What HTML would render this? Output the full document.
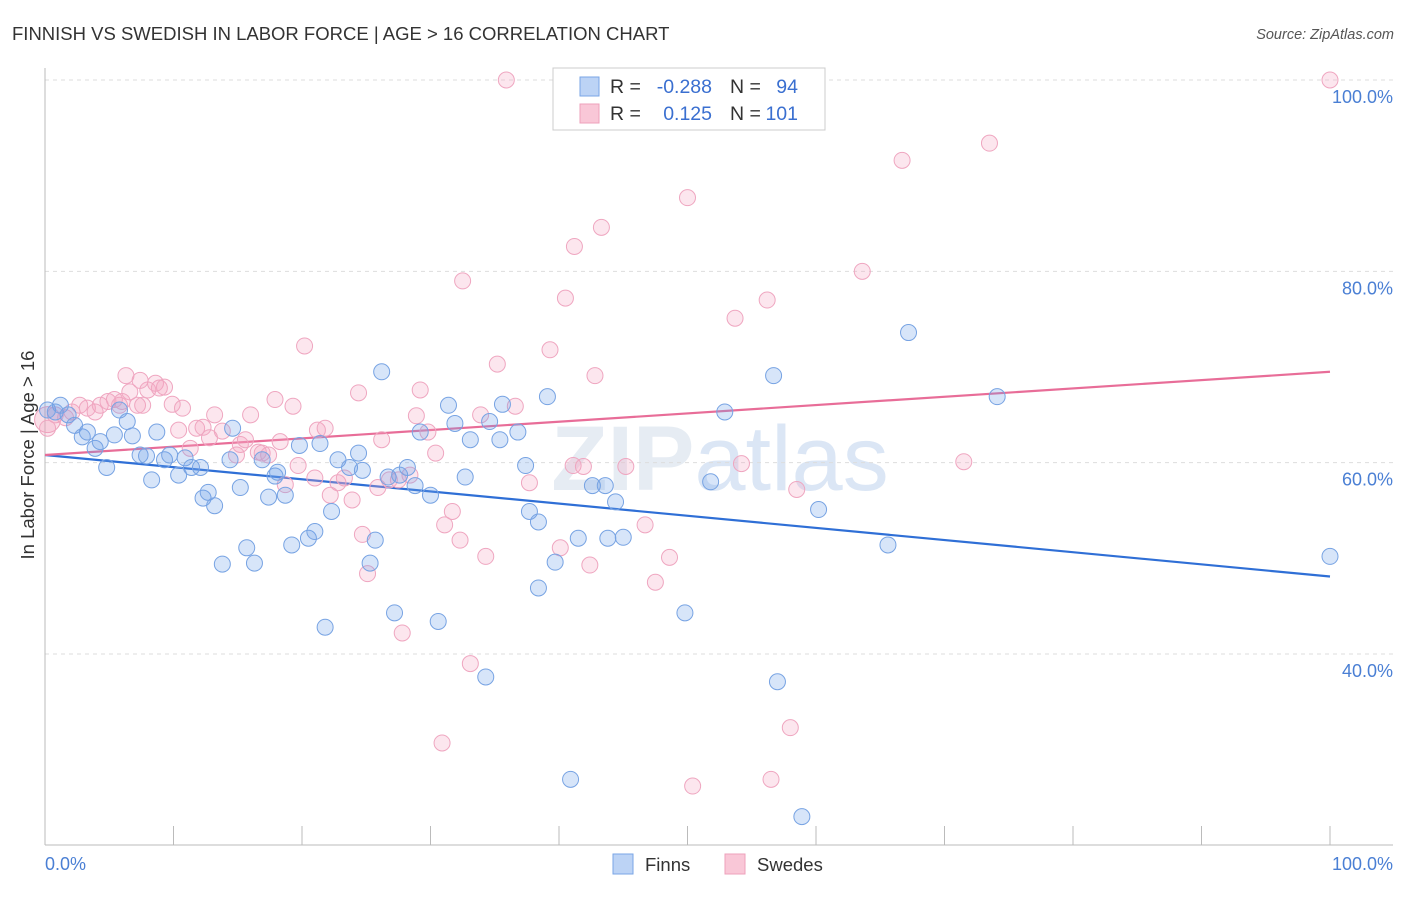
<!DOCTYPE html>
<html><head><meta charset="utf-8"><style>
body{margin:0;background:#fff;font-family:"Liberation Sans",sans-serif;}
svg text{font-family:"Liberation Sans",sans-serif;}
</style></head><body>
<svg width="1406" height="892" viewBox="0 0 1406 892">
<text x="12" y="40" font-size="18.5" fill="#333">FINNISH VS SWEDISH IN LABOR FORCE | AGE &gt; 16 CORRELATION CHART</text>
<text x="1394" y="39" font-size="14.5" fill="#555" font-style="italic" text-anchor="end">Source: ZipAtlas.com</text>
<text x="720" y="490" font-size="92" fill="#e6ecf3" text-anchor="middle" font-weight="bold">ZIP<tspan fill="#dbe6f5" font-weight="normal">atlas</tspan></text>
<g id="grid"></g>
<g id="axes"></g>
<g id="lines"></g>
<g id="pts"></g>
<text transform="translate(34,455) rotate(-90)" font-size="18.5" fill="#333" text-anchor="middle">In Labor Force | Age &gt; 16</text>
<text x="45" y="870" font-size="18" fill="#4a7fd4">0.0%</text>
<text x="1393" y="870" font-size="18" fill="#4a7fd4" text-anchor="end">100.0%</text>
<g>
<rect x="553" y="68" width="272" height="62" fill="#fff" stroke="#ccc"/>
<rect x="580" y="77" width="19" height="19" fill="#bcd3f5" stroke="#7aa6e6"/>
<rect x="580" y="104" width="19" height="19" fill="#f9c7d7" stroke="#eea0bb"/>
<text x="610" y="93" font-size="19.5" fill="#333">R =</text>
<text x="712" y="93" font-size="19.5" fill="#3a6fd0" text-anchor="end">-0.288</text>
<text x="730" y="93" font-size="19.5" fill="#333">N =</text>
<text x="798" y="93" font-size="19.5" fill="#3a6fd0" text-anchor="end">94</text>
<text x="610" y="120" font-size="19.5" fill="#333">R =</text>
<text x="712" y="120" font-size="19.5" fill="#3a6fd0" text-anchor="end">0.125</text>
<text x="730" y="120" font-size="19.5" fill="#333">N =</text>
<text x="798" y="120" font-size="19.5" fill="#3a6fd0" text-anchor="end">101</text>
</g>
<g><rect x="613" y="854" width="20" height="20" fill="#bcd3f5" stroke="#7aa6e6"/><text x="645" y="871" font-size="18.5" fill="#333">Finns</text></g>
<g><rect x="725" y="854" width="20" height="20" fill="#f9c7d7" stroke="#eea0bb"/><text x="757" y="871" font-size="18.5" fill="#333">Swedes</text></g>
</svg>
<script>
const yTicks=[40,60,80,100];
const xTicks=[0,10,20,30,40,50,60,70,80,90,100];
const finnX=[0.2,1.2,0.8,1.8,2.3,2.9,3.3,3.9,4.3,4.8,5.4,5.8,6.4,6.8,7.4,7.9,8.3,8.7,9.3,9.7,10.4,10.9,11.4,12.1,12.3,12.7,13.2,13.8,14.4,14.6,15.2,15.7,16.3,16.9,17.4,17.9,18.1,18.7,19.2,19.8,20.5,21.0,21.4,21.8,22.3,22.8,23.7,24.4,24.7,25.3,25.7,26.2,26.7,27.2,27.6,28.2,28.8,29.2,30.0,30.6,31.4,31.9,32.7,33.1,34.3,34.6,35.4,35.6,36.8,37.4,37.7,38.4,39.1,39.7,38.4,40.9,41.5,42.6,43.6,43.8,44.4,45.0,49.8,51.8,52.9,56.7,57.0,58.9,60.2,65.6,67.2,74.1,100];
const finnY=[65.5,66.0,65.3,65.0,63.9,62.7,63.2,61.5,62.2,59.5,62.9,65.5,64.3,62.8,60.8,60.7,58.2,63.2,60.3,60.8,58.7,60.5,59.5,59.5,56.3,56.9,55.5,49.4,60.3,63.6,57.4,51.1,49.5,60.3,56.4,58.6,59.0,56.6,51.4,61.8,52.1,52.8,62.0,42.8,54.9,60.3,59.5,61.0,59.2,49.5,51.9,69.5,58.5,44.3,58.7,59.5,57.6,63.2,56.6,43.4,66.0,64.1,58.5,62.4,37.6,64.3,62.4,66.1,63.2,59.7,54.9,53.8,66.9,49.6,46.9,26.9,52.1,57.6,57.6,52.1,55.9,52.2,44.3,58.0,65.3,69.1,37.1,23.0,55.1,51.4,73.6,66.9,50.2];
const sweX=[0.2,0.8,1.6,2.1,2.7,3.3,3.9,4.3,4.9,5.4,5.8,6.3,6.6,7.2,7.6,8.0,8.6,8.9,9.3,9.9,10.4,10.7,11.3,11.8,12.3,12.8,13.2,13.8,14.9,15.2,15.6,16.0,16.6,16.9,17.4,17.9,18.3,18.7,19.3,19.7,20.2,21.0,21.2,21.8,22.2,22.8,23.3,23.9,24.4,24.7,25.1,25.9,26.2,26.8,27.5,27.8,28.4,28.9,29.2,29.8,30.4,30.9,31.1,31.7,32.3,32.5,33.1,33.9,34.3,35.2,35.9,36.6,37.7,39.3,40.1,40.5,41.1,41.2,41.9,42.4,42.8,43.3,45.2,46.7,47.5,48.6,50.0,50.4,53.7,54.2,56.2,56.5,58.0,58.5,63.6,66.7,71.5,73.5,100,6.0,7.4];
const sweY=[63.6,65.0,64.7,65.3,66.0,65.7,65.3,66.0,66.4,66.6,66.0,69.1,67.4,66.0,66.0,67.6,68.3,67.8,67.9,66.1,63.4,65.7,61.5,63.6,63.7,62.6,65.0,63.3,60.8,61.9,62.4,65.0,61.1,61.0,60.8,66.6,62.2,57.7,65.9,59.7,72.2,58.4,63.4,63.6,56.6,57.9,58.4,56.1,67.3,52.5,48.4,57.4,62.4,58.2,58.2,42.2,58.7,64.9,67.6,63.2,61.0,30.7,53.5,54.9,51.9,79.0,39.0,65.0,50.2,70.3,100,65.9,57.9,71.8,51.1,77.2,59.7,82.6,59.6,49.3,69.1,84.6,59.6,53.5,47.5,50.1,87.7,26.2,75.1,59.9,77.0,26.9,32.3,57.2,80.0,91.6,60.1,93.4,100,66.4,68.6];
const finnTrend=[60.8,48.1];
const sweTrend=[60.8,69.5];
const NS='http://www.w3.org/2000/svg';
const X0=45,X1=1330,Ytop=80,Ybot=654;
function sx(v){return X0+(X1-X0)*v/100;}
function sy(v){return Ybot-(v-40)*(Ybot-Ytop)/60;}
function mk(tag,attrs,parent){const e=document.createElementNS(NS,tag);for(const k in attrs)e.setAttribute(k,attrs[k]);parent.appendChild(e);return e;}
const grid=document.getElementById('grid'),axes=document.getElementById('axes'),lines=document.getElementById('lines'),pts=document.getElementById('pts');
yTicks.forEach(t=>{
 const l=mk('line',{x1:45,x2:1393,y1:sy(t),y2:sy(t),stroke:'#ddd','stroke-dasharray':'4,4'},grid);
 
 
 const tx=mk('text',{x:1393,y:sy(t)+23,'font-size':18,fill:'#4a7fd4','text-anchor':'end'},grid);
 tx.textContent=t.toFixed(1)+'%';
 
 
});
const ax=mk('line',{x1:45,x2:1393,y1:845,y2:845,stroke:'#bbb'},axes);


const ay=mk('line',{x1:45,x2:45,y1:68,y2:845,stroke:'#bbb'},axes);


xTicks.forEach(t=>{
 const l=mk('line',{x1:sx(t),x2:sx(t),y1:826,y2:845,stroke:'#bbb'},axes);
 
 
});
function dots(xs,ys,fill,stroke,name){
 const n=Math.min(xs.length,ys.length);
 for(let i=0;i<n;i++){
  const c=mk('circle',{cx:sx(xs[i]),cy:sy(ys[i]),r:8,fill:fill,stroke:stroke,'stroke-width':1},pts);
  
  
 }
}
const big1=mk('circle',{cx:sx(0.2),cy:sy(64.5),r:13,fill:'rgba(240,150,180,0.3)',stroke:'#eea0bb'},pts);


dots(sweX,sweY,'rgba(245,165,195,0.28)','#efa6c0','swedes-point');
dots(finnX,finnY,'rgba(110,160,235,0.28)','#77a3e3','finns-point');
const t1=mk('line',{x1:sx(0),y1:sy(finnTrend[0]),x2:sx(100),y2:sy(finnTrend[1]),stroke:'#2f6fd6','stroke-width':2.2},lines);


const t2=mk('line',{x1:sx(0),y1:sy(sweTrend[0]),x2:sx(100),y2:sy(sweTrend[1]),stroke:'#e86d98','stroke-width':2.2},lines);


</script>
</body></html>
